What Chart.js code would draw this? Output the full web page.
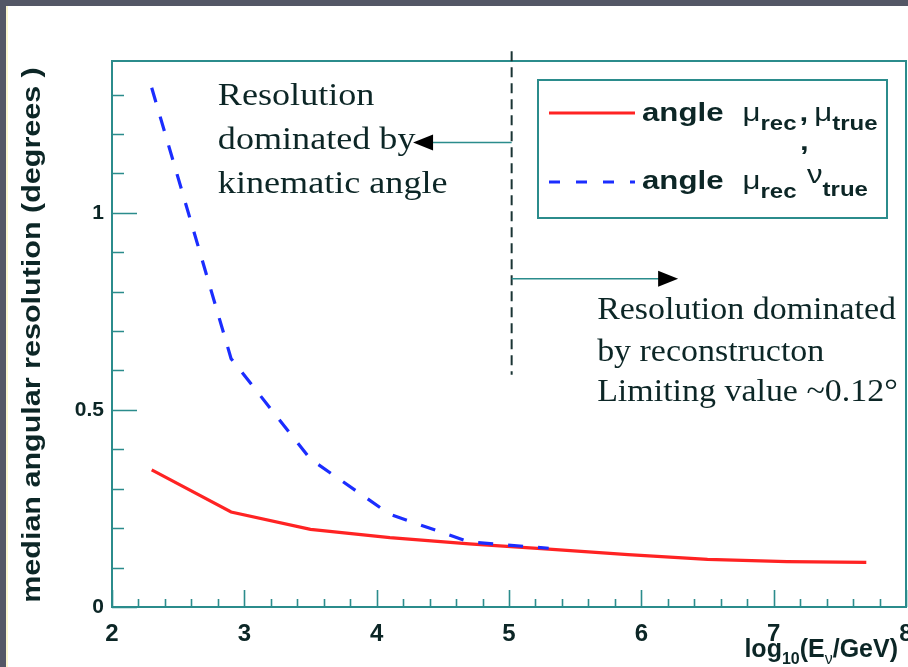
<!DOCTYPE html>
<html>
<head>
<meta charset="utf-8">
<script src="https://cdn.jsdelivr.net/npm/chart.js@4.4.1/dist/chart.umd.min.js"></script>
<style>
  html, body { margin: 0; padding: 0; width: 908px; height: 667px; overflow: hidden; background: #545766; }
  #strip { position: absolute; left: 6px; top: 6px; width: 3px; height: 661px; background: #fbf6cf; }
  #wrap { position: absolute; left: 8px; top: 6px; width: 900px; height: 661px; background: #ffffff; }
  canvas { display: block; }
</style>
</head>
<body>
<div id="strip"></div>
<div id="wrap"><canvas id="c" width="900" height="661"></canvas></div>
<script>
// log10(E/GeV) sample points
const energyLog   = [2.3, 2.9, 3.5, 4.1, 4.7, 5.3, 5.9, 6.5, 7.1, 7.7];
// median angle between reconstructed and true muon (degrees)
const resMuTrue   = [0.348, 0.241, 0.197, 0.176, 0.160, 0.147, 0.133, 0.121, 0.115, 0.113];
// median angle between reconstructed muon and true neutrino (degrees)
const energyLogNu = [2.3, 2.9, 3.5, 4.1, 4.7, 5.3];
const resNuTrue   = [1.317, 0.630, 0.375, 0.235, 0.165, 0.149];

const xTickValues = [2, 3, 4, 5, 6, 7, 8];
const yTickValues = [0, 0.5, 1];
const seriesLabels = ['angle \u03bcrec, \u03bctrue', 'angle \u03bcrec, \u03bdtrue'];

const TEAL = '#2b8c8c';
const INK = '#0c2626';
const SANS = '"Liberation Sans", Arial, sans-serif';
const SERIF = '"Liberation Serif", "Times New Roman", serif';

function toPoints(xs, ys) { return xs.map((x, i) => ({ x: x, y: ys[i] })); }

// draw a run of text pieces, each {t, font, dy, sx, gap}
function drawRich(ctx, pieces, x, y, color) {
  let cx = x;
  ctx.save();
  ctx.fillStyle = color;
  ctx.textBaseline = 'alphabetic';
  ctx.textAlign = 'left';
  for (const p of pieces) {
    const sx = p.sx || 1;
    cx += (p.gap || 0);
    ctx.font = p.font;
    ctx.save();
    ctx.translate(cx, y + (p.dy || 0));
    ctx.scale(sx, 1);
    ctx.fillText(p.t, 0, 0);
    ctx.restore();
    cx += ctx.measureText(p.t).width * sx;
  }
  ctx.restore();
  return cx;
}
function richWidth(ctx, pieces) {
  let w = 0;
  ctx.save();
  for (const p of pieces) { ctx.font = p.font; w += (p.gap || 0) + ctx.measureText(p.t).width * (p.sx || 1); }
  ctx.restore();
  return w;
}

// frame with inward ticks
const framePlugin = {
  id: 'frame',
  afterDatasetsDraw(chart) {
    const { ctx, chartArea: a, scales: { x, y } } = chart;
    ctx.save();
    ctx.strokeStyle = TEAL;
    ctx.lineWidth = 2;
    ctx.strokeRect(a.left, a.top, a.right - a.left, a.bottom - a.top);
    ctx.lineWidth = 1.6;
    ctx.beginPath();
    for (let i = 0; i <= 30; i++) {
      const px = Math.round(x.getPixelForValue(2 + i * 0.2)) + 0.5;
      const len = (i % 5 === 0) ? 17 : 8;
      ctx.moveTo(px, a.bottom); ctx.lineTo(px, a.bottom - len);
    }
    for (let i = 0; i <= 13; i++) {
      const py = Math.round(y.getPixelForValue(i * 0.1)) + 0.5;
      const len = (i % 5 === 0) ? 25 : 12;
      ctx.moveTo(a.left, py); ctx.lineTo(a.left + len, py);
    }
    ctx.stroke();
    ctx.restore();
  }
};

// titles, legend and the annotations
const decorPlugin = {
  id: 'decor',
  afterDraw(chart) {
    const { ctx, chartArea: a, scales: { x, y } } = chart;

    // y title, drawn upward and stretched along its length
    ctx.save();
    ctx.translate(25, (a.top + a.bottom) / 2 + 1);
    ctx.scale(1, 1.22);
    ctx.rotate(-Math.PI / 2);
    ctx.font = 'bold 25px ' + SANS;
    ctx.fillStyle = INK;
    ctx.textAlign = 'center';
    ctx.textBaseline = 'middle';
    ctx.fillText('median angular resolution (degrees )', 0, 0);
    ctx.restore();

    // x title, right aligned under the axis end
    const big = 'bold 25px ' + SANS, sub = 'bold 16px ' + SANS;
    const xt = [
      { t: 'log', font: big },
      { t: '10', font: sub, dy: 7 },
      { t: '(E', font: big },
      { t: '\u03bd', font: '16px ' + SANS, dy: 7 },
      { t: '/GeV)', font: big }
    ];
    drawRich(ctx, xt, a.right - 8 - richWidth(ctx, xt), 651, INK);

    // legend box
    const lx = a.left + 426, ly = a.top + 19, lw = 349, lh = 138;
    ctx.save();
    ctx.strokeStyle = TEAL; ctx.lineWidth = 2;
    ctx.strokeRect(lx, ly, lw, lh);
    ctx.lineWidth = 3.2;
    ctx.strokeStyle = '#ff2323';
    ctx.beginPath(); ctx.moveTo(lx + 11, ly + 33); ctx.lineTo(lx + 97, ly + 33); ctx.stroke();
    ctx.strokeStyle = '#1b2dff';
    ctx.setLineDash([11, 16]); ctx.lineDashOffset = 0;
    ctx.beginPath(); ctx.moveTo(lx + 11, ly + 102); ctx.lineTo(lx + 97, ly + 102); ctx.stroke();
    ctx.restore();
    const sxL = 1.2;
    const fA = 'bold 26px ' + SANS, fMu = '26px ' + SANS, fSub = 'bold 20px ' + SANS;
    drawRich(ctx, [
      { t: 'angle', font: fA, sx: sxL },
      { t: '\u03bc', font: fMu, sx: sxL, gap: 19 },
      { t: 'rec', font: fSub, sx: sxL, dy: 9 },
      { t: ',', font: fA, sx: sxL, gap: 3 },
      { t: '\u03bc', font: fMu, sx: sxL, gap: 6 },
      { t: 'true', font: fSub, sx: sxL, dy: 9 }
    ], lx + 104, ly + 41, INK);
    drawRich(ctx, [
      { t: 'angle', font: fA, sx: sxL },
      { t: '\u03bc', font: fMu, sx: sxL, gap: 19 },
      { t: 'rec', font: fSub, sx: sxL, dy: 9 }
    ], lx + 104, ly + 109, INK);
    drawRich(ctx, [{ t: ',', font: fA, sx: sxL }], lx + 262, ly + 70, INK);
    drawRich(ctx, [
      { t: '\u03bd', font: fMu, sx: sxL },
      { t: 'true', font: fSub, sx: sxL, dy: 13 }
    ], lx + 269, ly + 103, INK);

    // dividing line between the two regimes
    const xd = x.getPixelForValue(5.02);
    ctx.save();
    ctx.strokeStyle = '#1a3434'; ctx.lineWidth = 2;
    ctx.setLineDash([10, 6]);
    ctx.beginPath();
    ctx.moveTo(xd, y.getPixelForValue(1.41));
    ctx.lineTo(xd, y.getPixelForValue(0.589));
    ctx.stroke();
    ctx.restore();

    // arrows
    function arrow(x0, x1, yv) {
      const py = y.getPixelForValue(yv);
      const p0 = x.getPixelForValue(x0), p1 = x.getPixelForValue(x1);
      const dir = Math.sign(p1 - p0);
      ctx.save();
      ctx.strokeStyle = TEAL; ctx.lineWidth = 1.5;
      ctx.beginPath(); ctx.moveTo(p0, py); ctx.lineTo(p1 - dir * 18, py); ctx.stroke();
      ctx.fillStyle = '#000';
      ctx.beginPath();
      ctx.moveTo(p1, py);
      ctx.lineTo(p1 - dir * 20, py - 8);
      ctx.lineTo(p1 - dir * 20, py + 8);
      ctx.closePath(); ctx.fill();
      ctx.restore();
    }
    arrow(5.02, 4.275, 1.178);
    arrow(5.02, 6.278, 0.8325);

    // annotation texts
    const fS = '31px ' + SERIF;
    const leftX = x.getPixelForValue(2.8);
    ['Resolution', 'dominated by', 'kinematic angle'].forEach((s, i) => {
      drawRich(ctx, [{ t: s, font: fS, sx: 1.165 }], leftX, y.getPixelForValue([1.274, 1.162, 1.051][i]), INK);
    });
    const rightX = x.getPixelForValue(5.666);
    ['Resolution dominated', 'by reconstructon', 'Limiting value ~0.12\u00b0'].forEach((s, i) => {
      drawRich(ctx, [{ t: s, font: fS, sx: 1.095 }], rightX, y.getPixelForValue([0.731, 0.624, 0.522][i]), INK);
    });
  }
};

new Chart(document.getElementById('c'), {
  type: 'line',
  data: {
    datasets: [
      {
        label: seriesLabels[0],
        data: toPoints(energyLog, resMuTrue),
        borderColor: '#ff2323',
        borderWidth: 3.2,
        pointRadius: 0,
        tension: 0,
        fill: false,
        order: 2
      },
      {
        label: seriesLabels[1],
        data: toPoints(energyLogNu, resNuTrue),
        borderColor: '#1b2dff',
        borderWidth: 3.2,
        borderDash: [15, 15],
        pointRadius: 0,
        tension: 0,
        fill: false,
        order: 1
      }
    ]
  },
  options: {
    responsive: false,
    animation: false,
    events: [],
    layout: { padding: { top: 55, right: 2, left: 0, bottom: 0 } },
    plugins: { legend: { display: false }, tooltip: { enabled: false } },
    scales: {
      x: {
        type: 'linear',
        min: 2, max: 8,
        afterBuildTicks(s) { s.ticks = xTickValues.map(v => ({ value: v })); },
        afterFit(s) { s.height = 60; s.paddingLeft = 0; s.paddingRight = 0; },
        grid: { display: false, drawTicks: false },
        border: { display: false },
        ticks: {
          padding: 13, maxRotation: 0, autoSkip: false,
          color: INK, font: { family: SANS, weight: 'bold', size: 24 },
          callback: v => String(v)
        }
      },
      y: {
        type: 'linear',
        min: 0, max: 1.385,
        afterBuildTicks(s) { s.ticks = yTickValues.map(v => ({ value: v })); },
        afterFit(s) { s.width = 104; s.paddingTop = 0; s.paddingBottom = 0; },
        grid: { display: false, drawTicks: false },
        border: { display: false },
        ticks: {
          padding: 8, color: INK, font: { family: SANS, weight: 'bold', size: 21 },
          callback: v => String(v)
        }
      }
    }
  },
  plugins: [framePlugin, decorPlugin]
});
</script>
</body>
</html>
